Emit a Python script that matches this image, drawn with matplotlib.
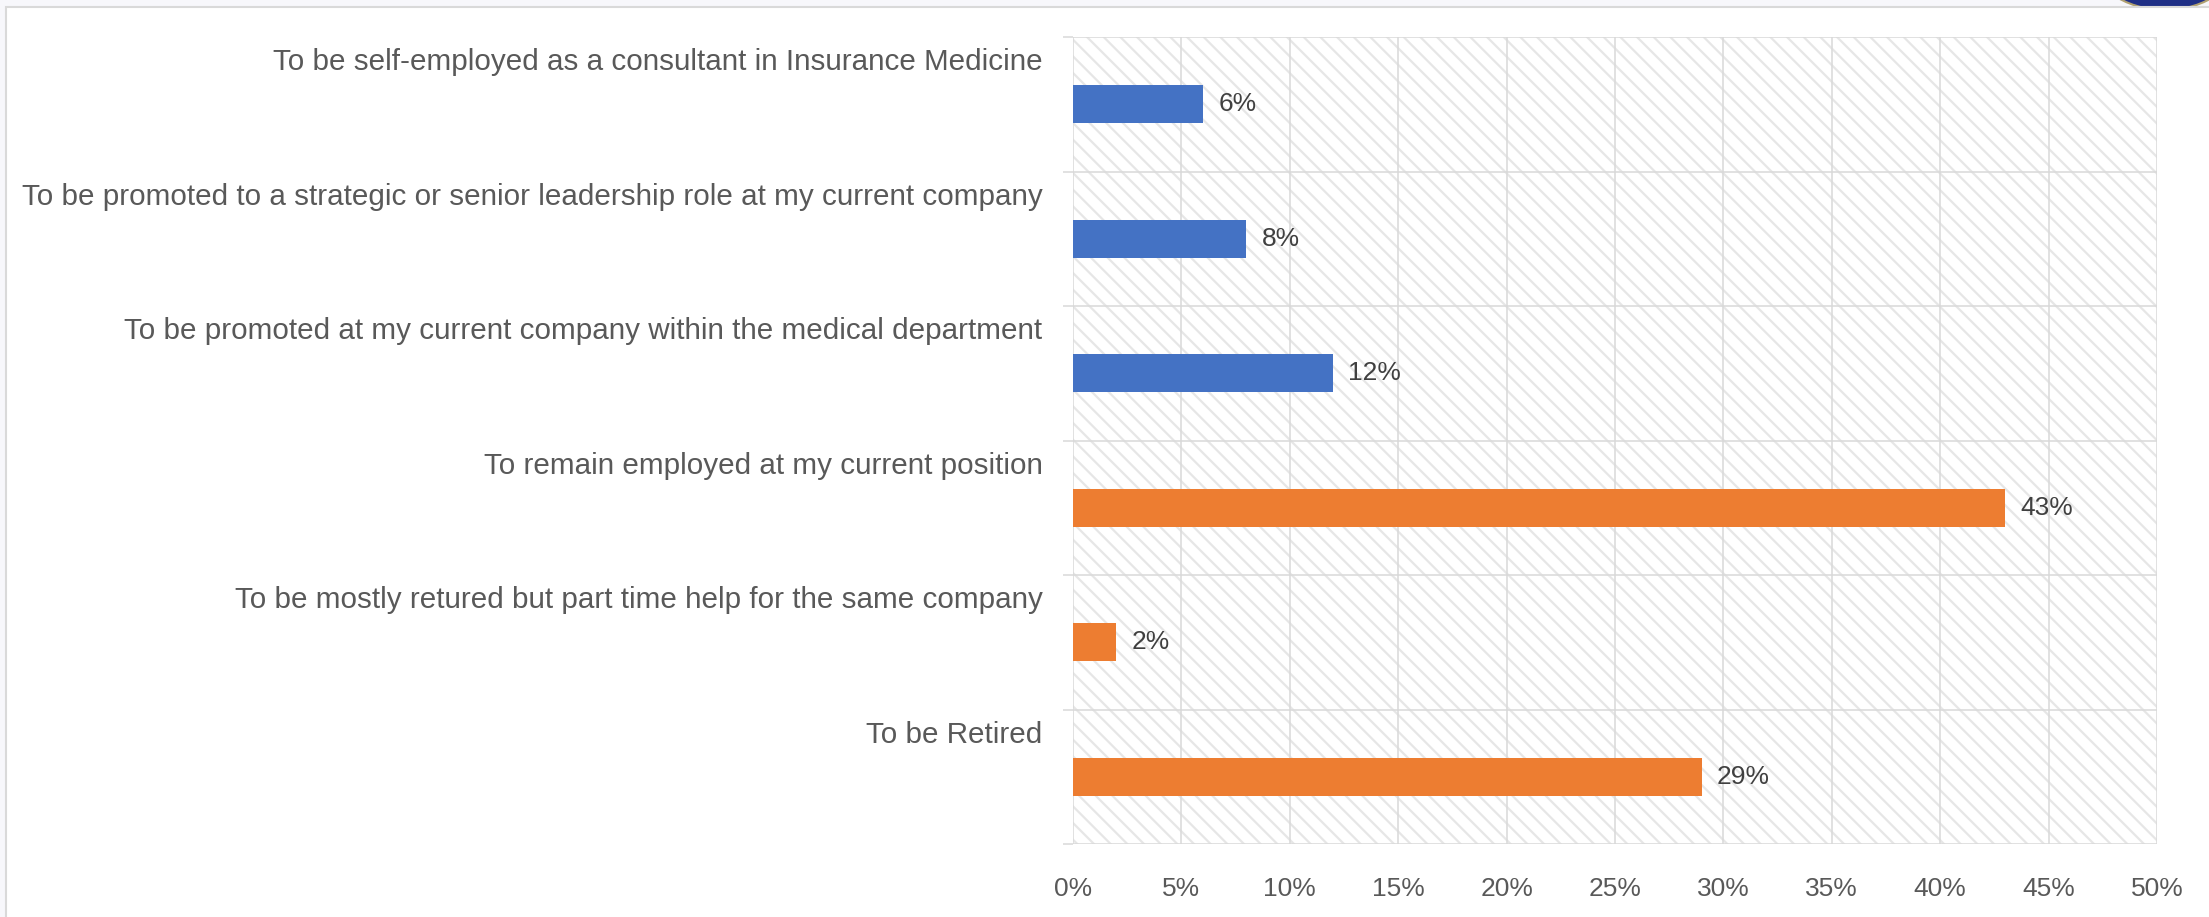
import matplotlib
matplotlib.use("Agg")
import matplotlib.pyplot as plt
from matplotlib.patches import Rectangle, Ellipse
import numpy as np

categories = [
    "To be self-employed as a consultant in Insurance Medicine",
    "To be promoted to a strategic or senior leadership role at my current company",
    "To be promoted at my current company within the medical department",
    "To remain employed at my current position",
    "To be mostly retured but part time help for the same company",
    "To be Retired",
]
values = [0.06, 0.08, 0.12, 0.43, 0.02, 0.29]
value_labels = ["6%", "8%", "12%", "43%", "2%", "29%"]
bar_colors = ["#4472C4", "#4472C4", "#4472C4", "#ED7D31", "#ED7D31", "#ED7D31"]
xticks = [0, 0.05, 0.10, 0.15, 0.20, 0.25, 0.30, 0.35, 0.40, 0.45, 0.50]
xtick_labels = ["0%", "5%", "10%", "15%", "20%", "25%", "30%", "35%", "40%", "45%", "50%"]

W, H = 2209, 917
DPI = 100
plt.rcParams['font.family'] = ['Liberation Sans', 'DejaVu Sans']
plt.rcParams['hatch.linewidth'] = 1.6
plt.rcParams['hatch.color'] = '#e6e6e6'

fig = plt.figure(figsize=(W / DPI, H / DPI), dpi=DPI)
fig.patch.set_facecolor('#f7f7fb')

# logo fragment at top right
fig.patches.append(Ellipse((2165 / W, 1 - (-45) / H), 150 / W, 110 / H,
                           transform=fig.transFigure, facecolor='#1f2f86',
                           edgecolor='#b0a070', lw=1.5, zorder=-2))
# white page with border
fig.patches.append(Rectangle((6 / W, -0.05), 1.1, 1 - 7 / H + 0.05,
                             transform=fig.transFigure, facecolor='white',
                             edgecolor='#d9d9d9', lw=1.5, zorder=-1))

left, right, top, bottom = 1073, 2157, 37, 844
ax = fig.add_axes([left / W, 1 - bottom / H, (right - left) / W, (bottom - top) / H])
ax.set_facecolor('none')

# hatched plot area background
ax.add_patch(Rectangle((0, 0), 1, 1, transform=ax.transAxes, facecolor='white',
                       edgecolor='#e6e6e6', hatch='\\\\', lw=0, zorder=0))

y = np.arange(len(categories))
ax.barh(y, values, height=0.28, color=bar_colors, zorder=3)

for yi, v, lab in zip(y, values, value_labels):
    ax.annotate(lab, (v, yi), xytext=(11, 0), textcoords='offset points',
                va='center', ha='left', fontsize=19, color='#404040', zorder=4)

ax.set_xlim(0, 0.5)
ax.set_ylim(len(categories) - 0.5, -0.5)

ax.set_xticks(xticks)
ax.set_xticklabels(xtick_labels, fontsize=19, color='#595959')
ax.tick_params(axis='x', length=0, pad=24)

# category labels, placed above each bar
ax.set_yticks(y - 0.336)
ax.set_yticklabels(categories, fontsize=21.3, color='#595959')
ax.tick_params(axis='y', which='major', length=0, pad=22)
ax.set_yticks(np.arange(-0.5, len(categories)), minor=True)
ax.tick_params(axis='y', which='minor', length=7.2, width=1.1, color='#d9d9d9', direction='out')

ax.grid(True, axis='x', which='major', color='#d9d9d9', lw=1.1, zorder=1)
ax.grid(True, axis='y', which='minor', color='#d9d9d9', lw=1.1, zorder=1)
ax.set_axisbelow(True)
for s in ax.spines.values():
    s.set_visible(False)

fig.savefig('out.png', dpi=DPI)
